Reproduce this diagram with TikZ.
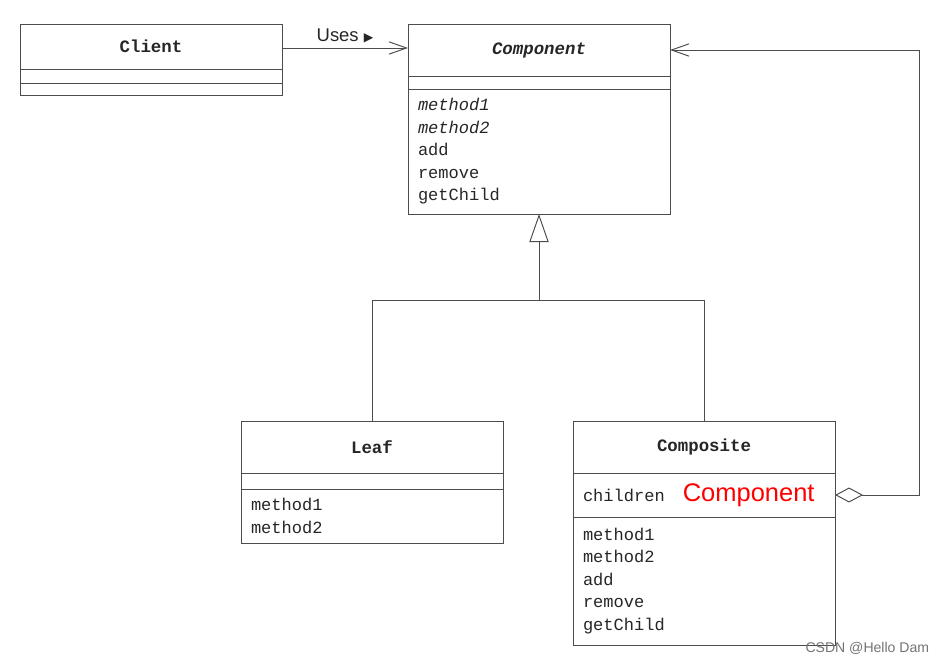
\documentclass[tikz,border=0pt]{standalone}
\usepackage{fontspec}
\setmonofont{Liberation Mono}
\setsansfont{Liberation Sans}
\newfontfamily\symfont{DejaVu Sans}
\usetikzlibrary{arrows.meta, positioning}

\begin{document}
\begin{tikzpicture}[line width=0.55pt, color=black!70, text=black!85, node distance=0pt]
        \tikzstyle{every node}=[outer sep=0pt]
        \tikzstyle{umlpart}=[draw, rectangle, minimum width=5.24cm, inner xsep=0.2cm, inner ysep=0pt, font=\ttfamily\fontsize{9.7}{12.8}\selectfont]
        \tikzstyle{umltitle}=[umlpart, minimum height=1.04cm, anchor=north west, font=\ttfamily\bfseries\fontsize{9.9}{12.8}\selectfont]
        \tikzstyle{umlbody}=[umlpart, text width=4.84cm, align=left]
        \tikzstyle{opento}=[-{Straight Barb[length=10pt, width=7pt]}]
        \useasboundingbox (0,0) rectangle (18.98,-13.28);
        % Client
        \node[umltitle, minimum height=0.9cm] (cltitle) at (0.4,-0.48) {Client};
        \node[umlpart, minimum height=0.28cm, below=of cltitle] (clattr) {};
        \node[umlpart, minimum height=0.24cm, below=of clattr] (clmethods) {};
        % Component
        \node[umltitle] (cotitle) at (8.16,-0.48) {\itshape Component};
        \node[umlpart, minimum height=0.26cm, below=of cotitle] (coattr) {};
        \node[umlbody, minimum height=2.5cm, below=of coattr] (comethods)
            {{\itshape method1}\\{\itshape method2}\\add\\remove\\getChild};
        % Leaf
        \node[umltitle] (lftitle) at (4.82,-8.42) {Leaf};
        \node[umlpart, minimum height=0.32cm, below=of lftitle] (lfattr) {};
        \node[umlbody, minimum height=1.08cm, below=of lfattr] (lfmethods) {method1\\method2};
        % Composite
        \node[umltitle] (cptitle) at (11.46,-8.42) {Composite};
        \node[umlbody, minimum height=0.88cm, below=of cptitle] (cpattr)
            {children\hspace{0.36cm}{\color{red}\sffamily\fontsize{14.5}{16}\selectfont Component}};
        \node[umlbody, minimum height=2.56cm, below=of cpattr] (cpmethods)
            {method1\\method2\\add\\remove\\getChild};

        \coordinate[below=1.72cm of comethods] (join);
        \coordinate[right=1.68cm of cpattr] (turn);

        \draw[opento] (cltitle.east) ++(0,-0.03) coordinate (usesfrom) -- (usesfrom -| cotitle.west)
            node[midway, above=2pt, inner sep=1pt, font=\sffamily\fontsize{10.5}{12}\selectfont] (uses) {Uses {\symfont\fontsize{7}{8}\selectfont ▶}};
        \draw[-{Triangle[open, length=16pt, width=11pt]}] (lftitle.north) |- (join) -- (comethods.south);
        \draw (cptitle.north) |- (join);
        \draw[{Diamond[open, length=16pt, width=8.5pt]}-{Straight Barb[length=10pt, width=7pt]}]
            (cpattr.east) -- (turn) |- (cotitle.east);

        \node[anchor=east, font=\sffamily\fontsize{8}{10}\selectfont, text=black!55] (mark) at (18.7,-12.96) {CSDN @Hello Dam};
\end{tikzpicture}
\end{document}
